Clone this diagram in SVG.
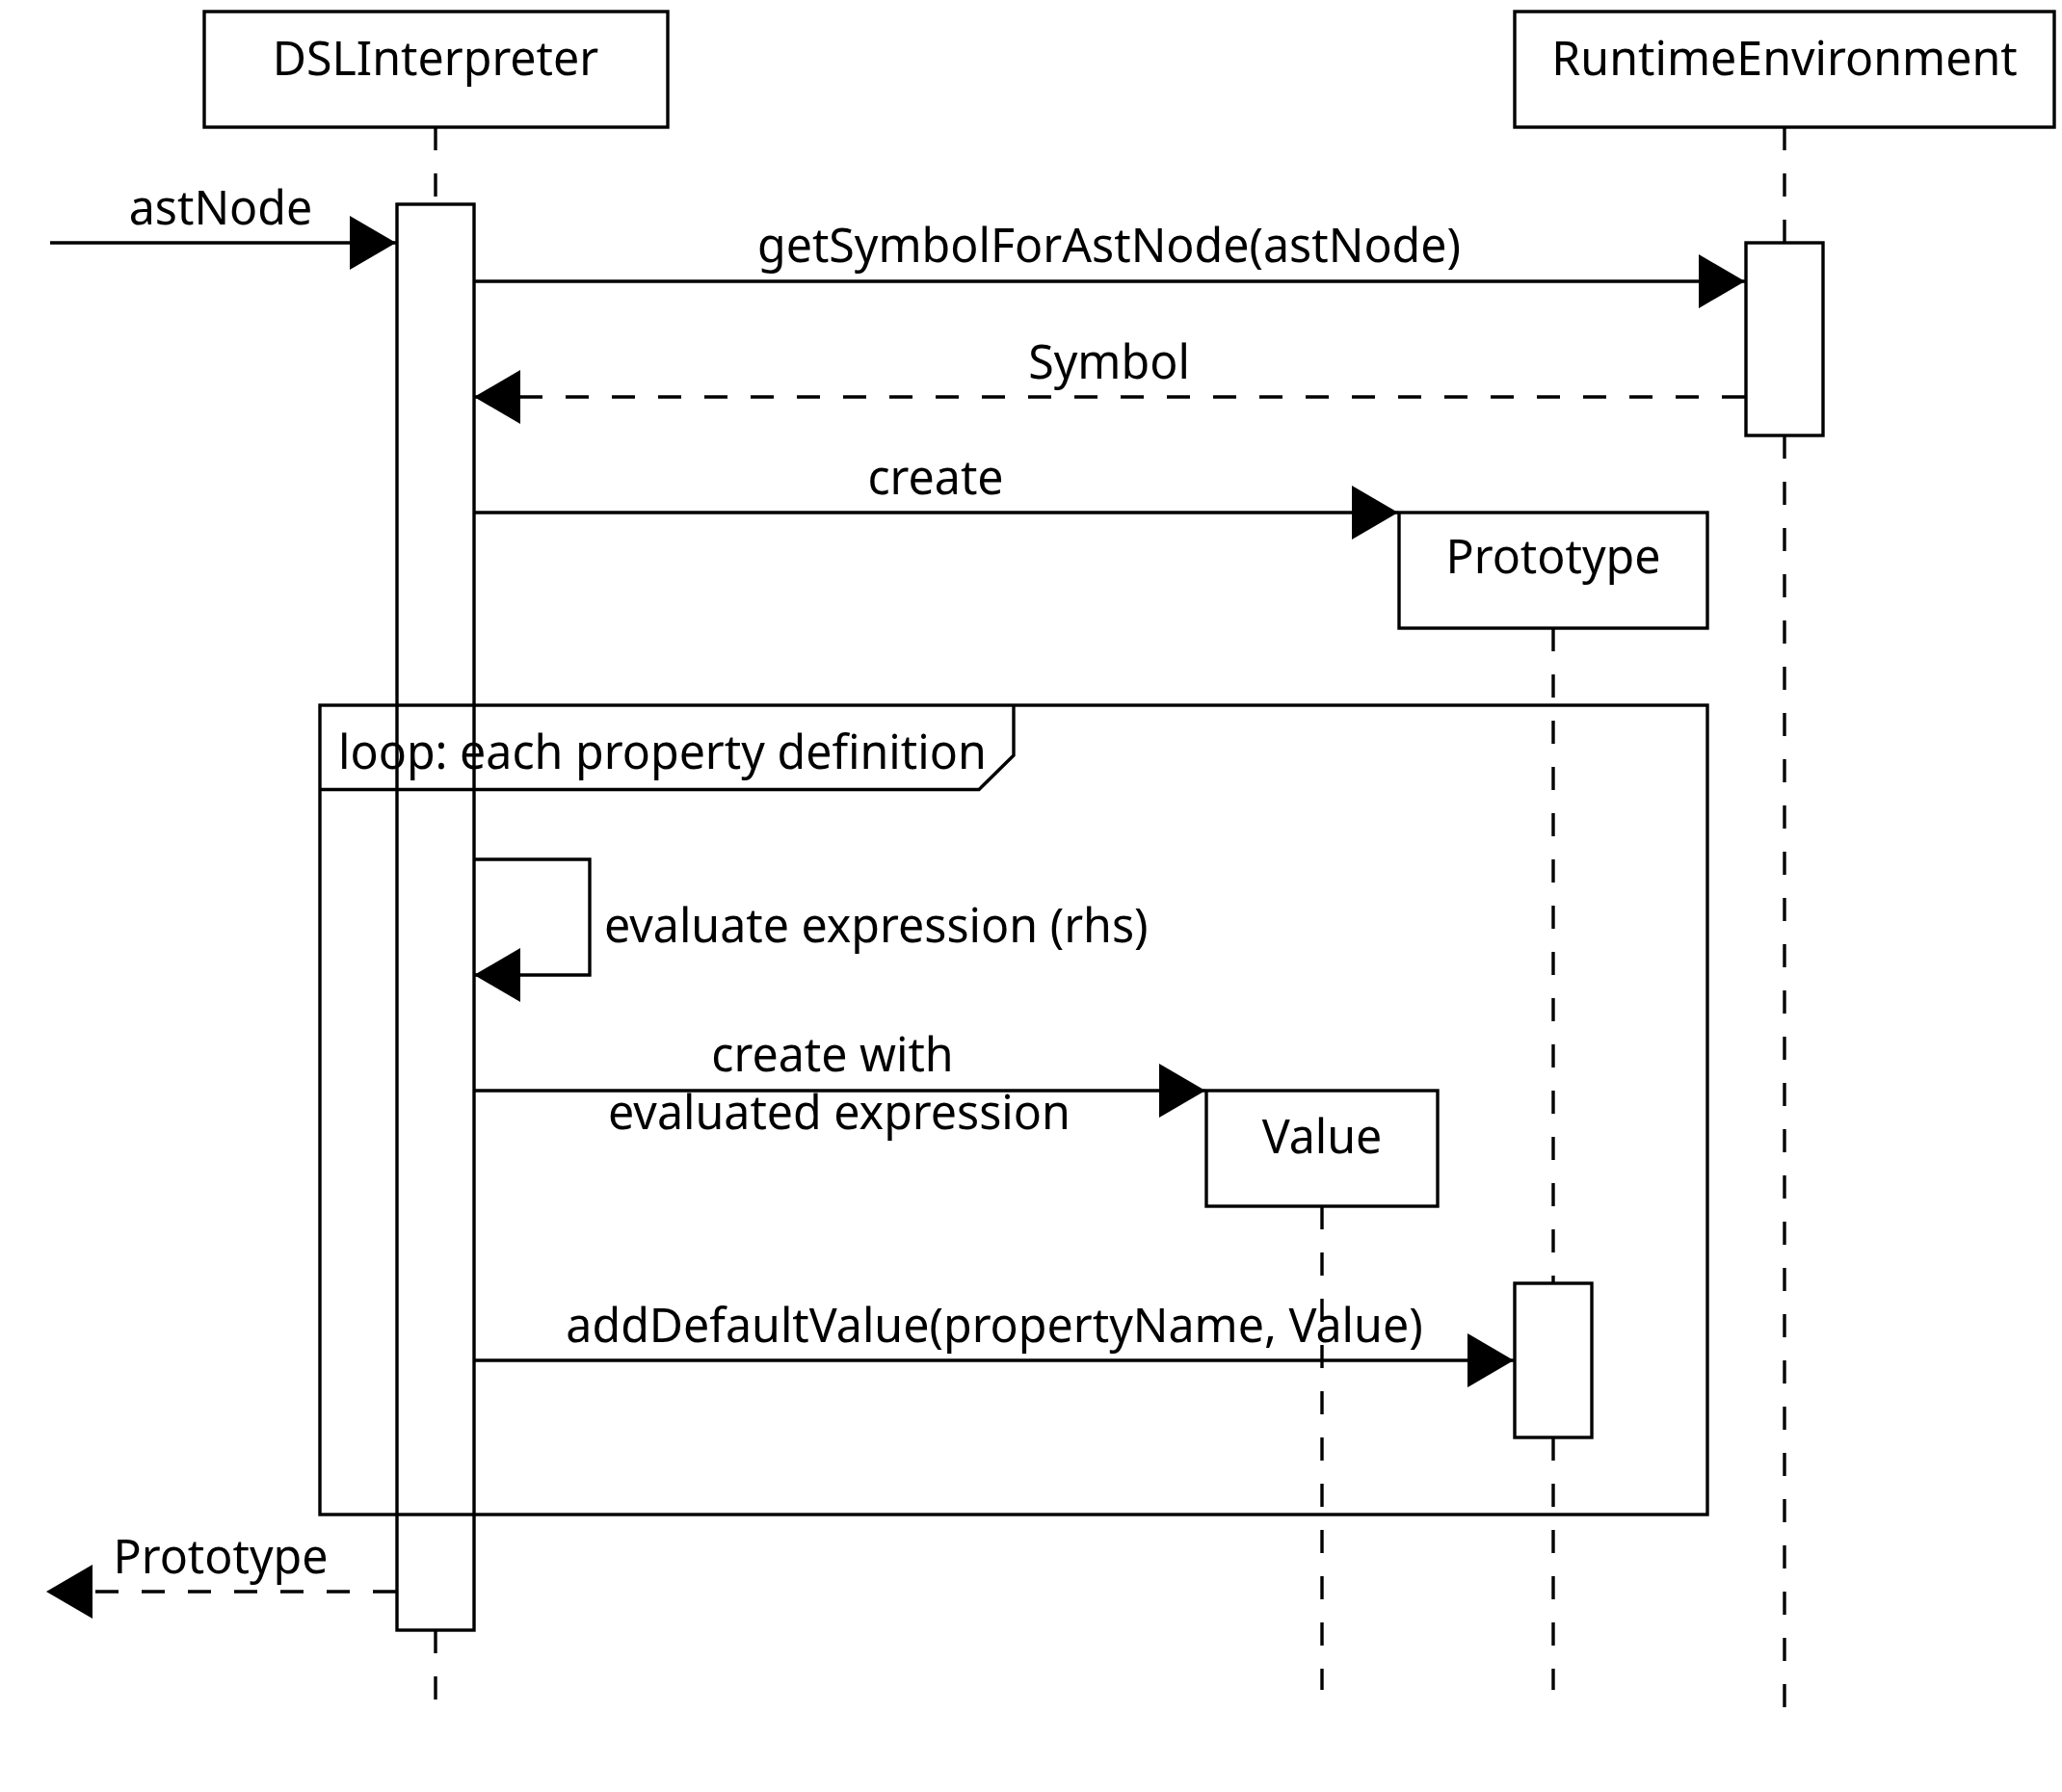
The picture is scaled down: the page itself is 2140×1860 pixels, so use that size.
<svg xmlns="http://www.w3.org/2000/svg" width="2140" height="1860" viewBox="0 0 2140 1860">
<style>
.box{fill:#fff;stroke:#000;stroke-width:3.4}
.bar{fill:#fff;stroke:#000;stroke-width:3.4}
.life{stroke:#000;stroke-width:3.4;stroke-dasharray:24 24;fill:none}
.msg{stroke:#000;stroke-width:3.4;fill:none}
.ret{stroke:#000;stroke-width:3.4;fill:none;stroke-dasharray:24 24}
.frame{fill:none;stroke:#000;stroke-width:3.4}
text{font-family:"Noto Sans","Open Sans",sans-serif;font-size:48.3px;fill:#000}
.c{text-anchor:middle}
</style>
<defs>
<marker id="ah" viewBox="0 0 48 56" markerWidth="48" markerHeight="56" markerUnits="userSpaceOnUse" refX="48" refY="28" orient="auto">
<path d="M0,0 L48,28 L0,56 Z" fill="#000"/>
</marker>
</defs>
<g id="lifelines">
<line class="life" x1="452" y1="132" x2="452" y2="212"/>
<line class="life" x1="452" y1="1692" x2="452" y2="1764"/>
<line class="life" x1="1852" y1="132" x2="1852" y2="252"/>
<line class="life" x1="1852" y1="452" x2="1852" y2="1772"/>
<line class="life" x1="1612" y1="652" x2="1612" y2="1332"/>
<line class="life" x1="1612" y1="1492" x2="1612" y2="1754"/>
<line class="life" x1="1372" y1="1252" x2="1372" y2="1754"/>
</g>
<g id="DSLInterpreter">
<rect class="box" x="212" y="12" width="481" height="120"/>
<text class="c" x="452" y="78">DSLInterpreter</text>
<rect class="bar" x="412" y="212" width="80" height="1480"/>
</g>
<g id="RuntimeEnvironment">
<rect class="box" x="1572" y="12" width="560" height="120"/>
<text class="c" x="1852" y="78">RuntimeEnvironment</text>
<rect class="bar" x="1812" y="252" width="80" height="200"/>
</g>
<g id="Prototype">
<rect class="box" x="1452" y="532" width="320" height="120"/>
<text class="c" x="1612" y="595">Prototype</text>
<rect class="bar" x="1572" y="1332" width="80" height="160"/>
</g>
<g id="Value">
<rect class="box" x="1252" y="1132" width="240" height="120"/>
<text class="c" x="1372" y="1197">Value</text>
</g>
<g id="loop">
<rect class="frame" x="332" y="732" width="1440" height="840"/>
<path class="frame" d="M332,819.5 L1016,819.5 L1052,784 L1052,732"/>
<text x="351" y="798">loop: each property definition</text>
</g>
<g id="connectors">
<line class="msg" x1="52" y1="252" x2="411" y2="252" marker-end="url(#ah)"/>
<text class="c" x="229" y="233">astNode</text>
<line class="msg" x1="492" y1="292" x2="1811" y2="292" marker-end="url(#ah)"/>
<text class="c" x="1151" y="272">getSymbolForAstNode(astNode)</text>
<line class="ret" x1="1811" y1="412" x2="492" y2="412" marker-end="url(#ah)"/>
<text class="c" x="1151" y="393">Symbol</text>
<line class="msg" x1="492" y1="532" x2="1451" y2="532" marker-end="url(#ah)"/>
<text class="c" x="971" y="513">create</text>
<polyline class="msg" points="492,892 612,892 612,1012 492,1012" marker-end="url(#ah)"/>
<text x="627" y="978">evaluate expression (rhs)</text>
<line class="msg" x1="492" y1="1132" x2="1251" y2="1132" marker-end="url(#ah)"/>
<text class="c" x="864" y="1112">create with</text>
<text class="c" x="871" y="1172">evaluated expression</text>
<line class="msg" x1="492" y1="1412" x2="1571" y2="1412" marker-end="url(#ah)"/>
<text class="c" x="1032" y="1393">addDefaultValue(propertyName, Value)</text>
<line class="ret" x1="411" y1="1652" x2="48" y2="1652" marker-end="url(#ah)"/>
<text class="c" x="229" y="1633">Prototype</text>
</g>
</svg>
